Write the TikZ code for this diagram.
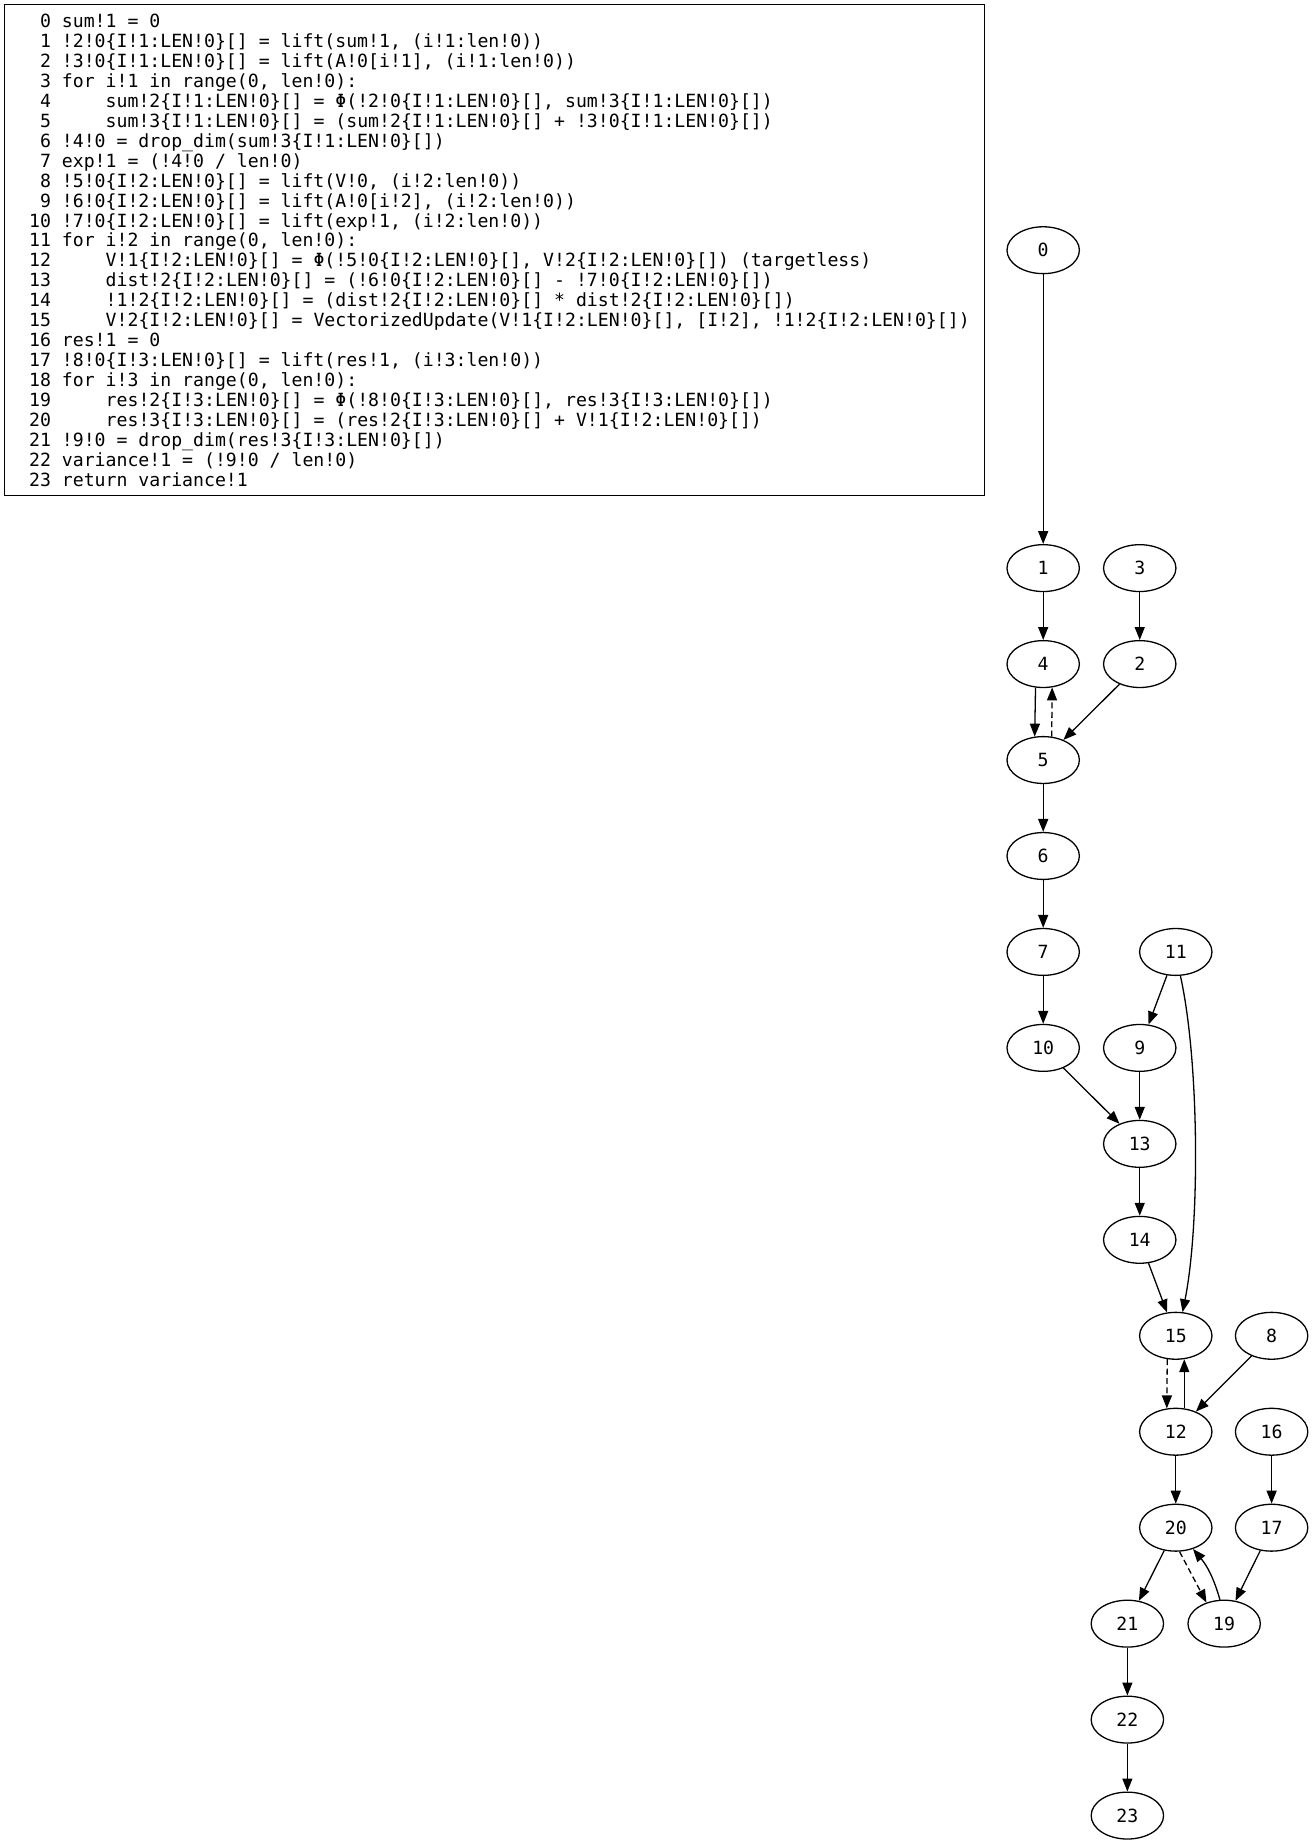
\documentclass[tikz,border=0pt]{standalone}
\usepackage{fontspec}
\usetikzlibrary{shapes.geometric,arrows.meta}
\newfontfamily\codefont{DejaVu Sans Mono}
\newcommand\codesize{\codefont\fontsize{15.43pt}{16.93pt}\selectfont\frenchspacing}
\newcommand\codeln[3]{%
  \node[codetxt, anchor=base east] (n#1) at (43.3, {-23.5-16.93*#1}) {#1};
  \node[codetxt, anchor=base west] (c#1) at (#2, {-23.5-16.93*#1}) {#3};}
\tikzset{
  codetxt/.style={inner sep=0pt, outer sep=0pt, font=\codesize},
  gnode/.style={ellipse, draw, line width=1.1pt, minimum width=61.5pt, minimum height=39.8pt, inner sep=0pt, font=\codesize},
  edge/.style={draw, line width=1.1pt, -{Triangle[length=11pt,width=8.5pt]}},
  dedge/.style={edge, dash pattern=on 5pt off 3pt}
}
\begin{document}
\begin{tikzpicture}[x=1pt,y=1pt]
\useasboundingbox (0,0) rectangle (1115,-1567);
\node[draw, line width=1.1pt, minimum width=832pt, minimum height=417pt, inner sep=0pt, outer sep=0pt, anchor=north west] (codebox) at (4,-4) {};
\codeln{0}{52.6}{sum!1 = 0}
\codeln{1}{52.6}{!2!0\{I!1:LEN!0\}[] = lift(sum!1, (i!1:len!0))}
\codeln{2}{52.6}{!3!0\{I!1:LEN!0\}[] = lift(A!0[i!1], (i!1:len!0))}
\codeln{3}{52.6}{for i!1 in range(0, len!0):}
\codeln{4}{89.8}{sum!2\{I!1:LEN!0\}[] = Φ(!2!0\{I!1:LEN!0\}[], sum!3\{I!1:LEN!0\}[])}
\codeln{5}{89.8}{sum!3\{I!1:LEN!0\}[] = (sum!2\{I!1:LEN!0\}[] + !3!0\{I!1:LEN!0\}[])}
\codeln{6}{52.6}{!4!0 = drop\_dim(sum!3\{I!1:LEN!0\}[])}
\codeln{7}{52.6}{exp!1 = (!4!0 / len!0)}
\codeln{8}{52.6}{!5!0\{I!2:LEN!0\}[] = lift(V!0, (i!2:len!0))}
\codeln{9}{52.6}{!6!0\{I!2:LEN!0\}[] = lift(A!0[i!2], (i!2:len!0))}
\codeln{10}{52.6}{!7!0\{I!2:LEN!0\}[] = lift(exp!1, (i!2:len!0))}
\codeln{11}{52.6}{for i!2 in range(0, len!0):}
\codeln{12}{89.8}{V!1\{I!2:LEN!0\}[] = Φ(!5!0\{I!2:LEN!0\}[], V!2\{I!2:LEN!0\}[]) (targetless)}
\codeln{13}{89.8}{dist!2\{I!2:LEN!0\}[] = (!6!0\{I!2:LEN!0\}[] - !7!0\{I!2:LEN!0\}[])}
\codeln{14}{89.8}{!1!2\{I!2:LEN!0\}[] = (dist!2\{I!2:LEN!0\}[] * dist!2\{I!2:LEN!0\}[])}
\codeln{15}{89.8}{V!2\{I!2:LEN!0\}[] = VectorizedUpdate(V!1\{I!2:LEN!0\}[], [I!2], !1!2\{I!2:LEN!0\}[])}
\codeln{16}{52.6}{res!1 = 0}
\codeln{17}{52.6}{!8!0\{I!3:LEN!0\}[] = lift(res!1, (i!3:len!0))}
\codeln{18}{52.6}{for i!3 in range(0, len!0):}
\codeln{19}{89.8}{res!2\{I!3:LEN!0\}[] = Φ(!8!0\{I!3:LEN!0\}[], res!3\{I!3:LEN!0\}[])}
\codeln{20}{89.8}{res!3\{I!3:LEN!0\}[] = (res!2\{I!3:LEN!0\}[] + V!1\{I!2:LEN!0\}[])}
\codeln{21}{52.6}{!9!0 = drop\_dim(res!3\{I!3:LEN!0\}[])}
\codeln{22}{52.6}{variance!1 = (!9!0 / len!0)}
\codeln{23}{52.6}{return variance!1}

% graph nodes
\node[gnode] (g0) at (886,-212.5) {0};
\node[gnode] (g1) at (886,-482.5) {1};
\node[gnode] (g3) at (968,-482.5) {3};
\node[gnode] (g4) at (886,-564) {4};
\node[gnode] (g2) at (968,-564) {2};
\node[gnode] (g5) at (886,-645.5) {5};
\node[gnode] (g6) at (886,-727) {6};
\node[gnode] (g7) at (886,-808.5) {7};
\node[gnode] (g11) at (998.6,-808.5) {11};
\node[gnode] (g10) at (886,-890) {10};
\node[gnode] (g9) at (968,-890) {9};
\node[gnode] (g13) at (968,-971.5) {13};
\node[gnode] (g14) at (968,-1053) {14};
\node[gnode] (g15) at (998.6,-1134.5) {15};
\node[gnode] (g8) at (1080,-1134.5) {8};
\node[gnode] (g12) at (998.6,-1216) {12};
\node[gnode] (g16) at (1080,-1216) {16};
\node[gnode] (g20) at (998.6,-1297.5) {20};
\node[gnode] (g17) at (1080,-1297.5) {17};
\node[gnode] (g21) at (957.5,-1379) {21};
\node[gnode] (g19) at (1039.7,-1379) {19};
\node[gnode] (g22) at (957.5,-1460.5) {22};
\node[gnode] (g23) at (957.5,-1542) {23};

% edges
\draw[edge] (g0) -- (g1);
\draw[edge] (g1) -- (g4);
\draw[edge] (g3) -- (g2);
\draw[edge] (g4.-108) -- (g5.110);
\draw[dedge] (g5.70) -- (g4.-69);
\draw[edge] (g2) -- (g5);
\draw[edge] (g5) -- (g6);
\draw[edge] (g6) -- (g7);
\draw[edge] (g7) -- (g10);
\draw[edge] (g11) -- (g9);
\draw[edge] (g11.-79) .. controls +(16,-72) and +(15,75) .. (g15.74);
\draw[edge] (g10) -- (g13);
\draw[edge] (g9) -- (g13);
\draw[edge] (g13) -- (g14);
\draw[edge] (g14) -- (g15);
\draw[dedge] (g15.-110) -- (g12.111);
\draw[edge] (g12.70) -- (g15.-70);
\draw[edge] (g8) -- (g12);
\draw[edge] (g16) -- (g17);
\draw[edge] (g12) -- (g20);
\draw[edge] (g20) -- (g21);
\draw[dedge] (g20.-81) -- (g19.130);
\draw[edge] (g19.100) to[bend right=12] (g20.-51);
\draw[edge] (g17) -- (g19);
\draw[edge] (g21) -- (g22);
\draw[edge] (g22) -- (g23);
\end{tikzpicture}
\end{document}
